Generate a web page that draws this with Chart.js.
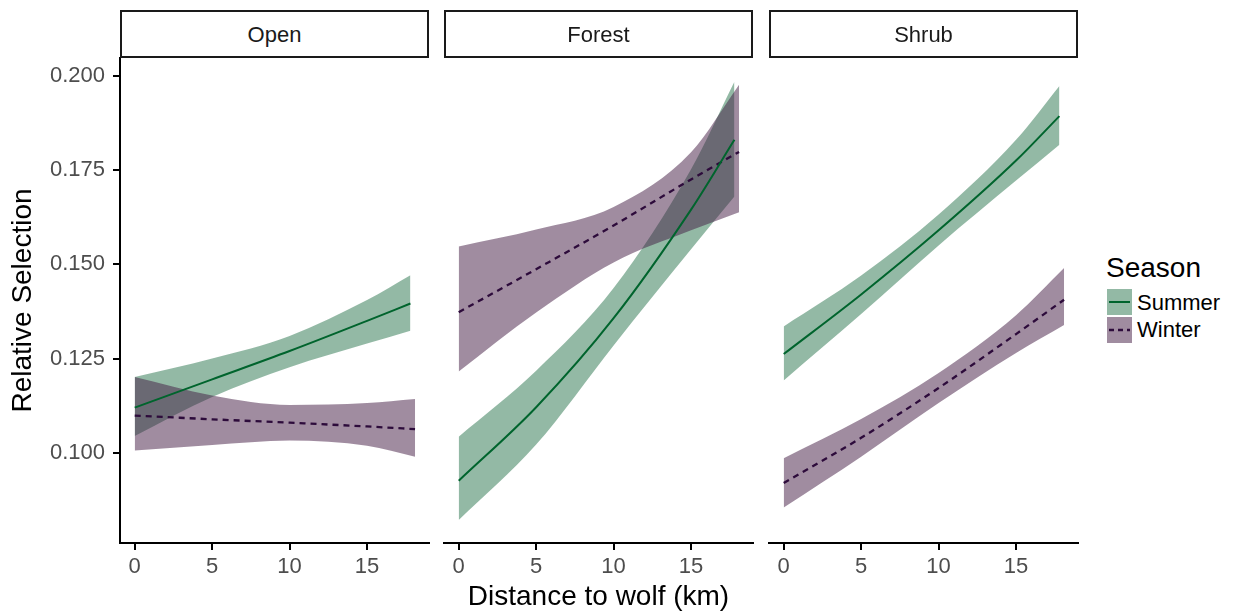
<!DOCTYPE html>
<html><head><meta charset="utf-8">
<script src="https://cdn.jsdelivr.net/npm/chart.js@4.4.1/dist/chart.umd.min.js"></script>
<style>
html,body{margin:0;padding:0;background:#fff;}
body{width:1236px;height:614px;position:relative;overflow:hidden;font-family:"Liberation Sans",Arial,sans-serif;}
canvas{position:absolute;top:0;}
.strip{position:absolute;top:10px;height:48px;width:309px;box-sizing:border-box;border:2px solid #1a1a1a;background:#fff;
  font-size:22px;color:#1a1a1a;text-align:center;line-height:44px;padding-top:1px;}
.lg{position:absolute;}
</style>
</head><body>
<canvas id="c0" width="440" height="614" style="left:0px"></canvas>
<canvas id="c1" width="320" height="614" style="left:440px"></canvas>
<canvas id="c2" width="320" height="614" style="left:765px"></canvas>
<div class="strip" style="left:120px" id="s0"></div>
<div class="strip" style="left:444px" id="s1"></div>
<div class="strip" style="left:769px" id="s2"></div>
<div class="lg" id="lgTitle" style="left:1106px;top:252px;font-size:28px;line-height:32px;color:#000"></div>
<div class="lg" style="left:1107px;top:289px;width:25px;height:26px;background:rgba(40,115,75,0.5)">
  <svg width="25" height="26"><line x1="2" y1="13" x2="23" y2="13" stroke="#00642d" stroke-width="2"/></svg></div>
<div class="lg" style="left:1107px;top:317px;width:25px;height:26px;background:rgba(65,25,65,0.5)">
  <svg width="25" height="26"><line x1="2" y1="13" x2="23" y2="13" stroke="#2d0b3b" stroke-width="2.3" stroke-dasharray="5,4"/></svg></div>
<div class="lg" id="lg0" style="left:1137px;top:290px;font-size:22px;line-height:26px;color:#000"></div>
<div class="lg" id="lg1" style="left:1137px;top:317px;font-size:22px;line-height:26px;color:#000"></div>
<script>
// ---- data ----
const panels = ['Open', 'Forest', 'Shrub'];
const seasons = ['Summer', 'Winter'];
const legendTitle = 'Season';
const xTitle = 'Distance to wolf (km)';
const yTitle = 'Relative Selection';
const xTicks = [0, 5, 10, 15];
const yTicks = [0.100, 0.125, 0.150, 0.175, 0.200];

const distSummer = [0, 5, 10, 15, 17.8];
const distWinter = [0, 5, 10, 15, 18.1];

const openSummerFit = [0.1120, 0.1195, 0.1270, 0.1350, 0.1396];
const openSummerLo  = [0.1045, 0.1148, 0.1227, 0.1290, 0.1324];
const openSummerHi  = [0.1201, 0.1250, 0.1310, 0.1405, 0.1471];
const openWinterFit = [0.1099, 0.1089, 0.1080, 0.1070, 0.1063];
const openWinterLo  = [0.1006, 0.1021, 0.1033, 0.1019, 0.0990];
const openWinterHi  = [0.1201, 0.1152, 0.1127, 0.1132, 0.1143];

const forestSummerFit = [0.0926, 0.1121, 0.1357, 0.1645, 0.1830];
const forestSummerLo  = [0.0822, 0.1022, 0.1285, 0.1540, 0.1680];
const forestSummerHi  = [0.1043, 0.1218, 0.1437, 0.1752, 0.1984];
const forestWinterFit = [0.1373, 0.1487, 0.1603, 0.1725, 0.1798];
const forestWinterLo  = [0.1216, 0.1372, 0.1505, 0.1590, 0.1638];
const forestWinterHi  = [0.1547, 0.1592, 0.1652, 0.1797, 0.1976];

const shrubSummerFit = [0.1262, 0.1420, 0.1590, 0.1775, 0.1893];
const shrubSummerLo  = [0.1192, 0.1368, 0.1550, 0.1722, 0.1817];
const shrubSummerHi  = [0.1335, 0.1470, 0.1632, 0.1830, 0.1973];
const shrubWinterFit = [0.0920, 0.1040, 0.1172, 0.1315, 0.1406];
const shrubWinterLo  = [0.0855, 0.0990, 0.1132, 0.1265, 0.1339];
const shrubWinterHi  = [0.0986, 0.1090, 0.1212, 0.1365, 0.1490];

// ---- styling ----
const FONT = '"Liberation Sans", Arial, sans-serif';
const SUM_LINE = '#00642d', WIN_LINE = '#2d0b3b';
const SUM_FILL = 'rgba(40,115,75,0.5)', WIN_FILL = 'rgba(65,25,65,0.5)';

document.getElementById('lgTitle').textContent = legendTitle;
document.getElementById('lg0').textContent = seasons[0];
document.getElementById('lg1').textContent = seasons[1];
panels.forEach((p, i) => document.getElementById('s' + i).textContent = p);

const panelData = [
  {sf: openSummerFit, sl: openSummerLo, sh: openSummerHi, wf: openWinterFit, wl: openWinterLo, wh: openWinterHi},
  {sf: forestSummerFit, sl: forestSummerLo, sh: forestSummerHi, wf: forestWinterFit, wl: forestWinterLo, wh: forestWinterHi},
  {sf: shrubSummerFit, sl: shrubSummerLo, sh: shrubSummerHi, wf: shrubWinterFit, wl: shrubWinterLo, wh: shrubWinterHi}
];

function pts(xs, ys) { return xs.map((x, i) => ({x: x, y: ys[i]})); }

function datasets(d) {
  const common = {pointRadius: 0, cubicInterpolationMode: 'monotone'};
  return [
    Object.assign({label: seasons[0], data: pts(distSummer, d.sf), borderColor: SUM_LINE, borderWidth: 2, fill: false, order: 0}, common),
    Object.assign({label: seasons[1], data: pts(distWinter, d.wf), borderColor: WIN_LINE, borderWidth: 2.3, borderDash: [6, 5], fill: false, order: 0}, common),
    Object.assign({label: 'wh', data: pts(distWinter, d.wh), borderWidth: 0, borderColor: 'rgba(0,0,0,0)', fill: false, order: 1}, common),
    Object.assign({label: 'wl', data: pts(distWinter, d.wl), borderWidth: 0, borderColor: 'rgba(0,0,0,0)', backgroundColor: WIN_FILL, fill: '-1', order: 1}, common),
    Object.assign({label: 'sh', data: pts(distSummer, d.sh), borderWidth: 0, borderColor: 'rgba(0,0,0,0)', fill: false, order: 2}, common),
    Object.assign({label: 'sl', data: pts(distSummer, d.sl), borderWidth: 0, borderColor: 'rgba(0,0,0,0)', backgroundColor: SUM_FILL, fill: '-1', order: 2}, common)
  ];
}

const gridCfg = {drawOnChartArea: false, drawTicks: true, tickLength: 7, color: '#000', lineWidth: 2};
const borderCfg = {display: true, color: '#000', width: 2};

function makeChart(idx, pad) {
  const showY = idx === 0;
  const showXTitle = idx === 1;
  return new Chart(document.getElementById('c' + idx), {
    type: 'line',
    data: {datasets: datasets(panelData[idx])},
    options: {
      responsive: false, animation: false, devicePixelRatio: 1,
      layout: {padding: pad},
      plugins: {legend: {display: false}, tooltip: {enabled: false}},
      scales: {
        x: {
          type: 'linear', min: -0.95, max: 19.0,
          afterBuildTicks: s => { s.ticks = xTicks.map(v => ({value: v})); },
          afterFit: s => { s.height = 71; },
          ticks: {autoSkip: false, maxRotation: 0, padding: 4, color: '#4d4d4d', font: {family: FONT, size: 22}, callback: v => String(v)},
          grid: gridCfg, border: borderCfg,
          title: {display: showXTitle, text: xTitle, color: '#000', font: {family: FONT, size: 28, lineHeight: 1.2}, padding: {top: 0, bottom: 0}}
        },
        y: {
          type: 'linear', min: 0.0761, max: 0.2047, display: showY,
          afterBuildTicks: s => { s.ticks = yTicks.map(v => ({value: v})); },
          afterFit: s => { s.width = showY ? 120 : 0; },
          ticks: {padding: 8, color: '#4d4d4d', font: {family: FONT, size: 22}, callback: v => v.toFixed(3)},
          grid: gridCfg, border: borderCfg,
          title: {display: true, text: yTitle, color: '#000', font: {family: FONT, size: 28, lineHeight: 1.2}, padding: {top: 6, bottom: 0}}
        }
      }
    }
  });
}

makeChart(0, {top: 58, right: 11, left: 0, bottom: 0});
makeChart(1, {top: 58, right: 7, left: 4, bottom: 0});
makeChart(2, {top: 58, right: 7, left: 4, bottom: 0});
</script>
</body></html>
